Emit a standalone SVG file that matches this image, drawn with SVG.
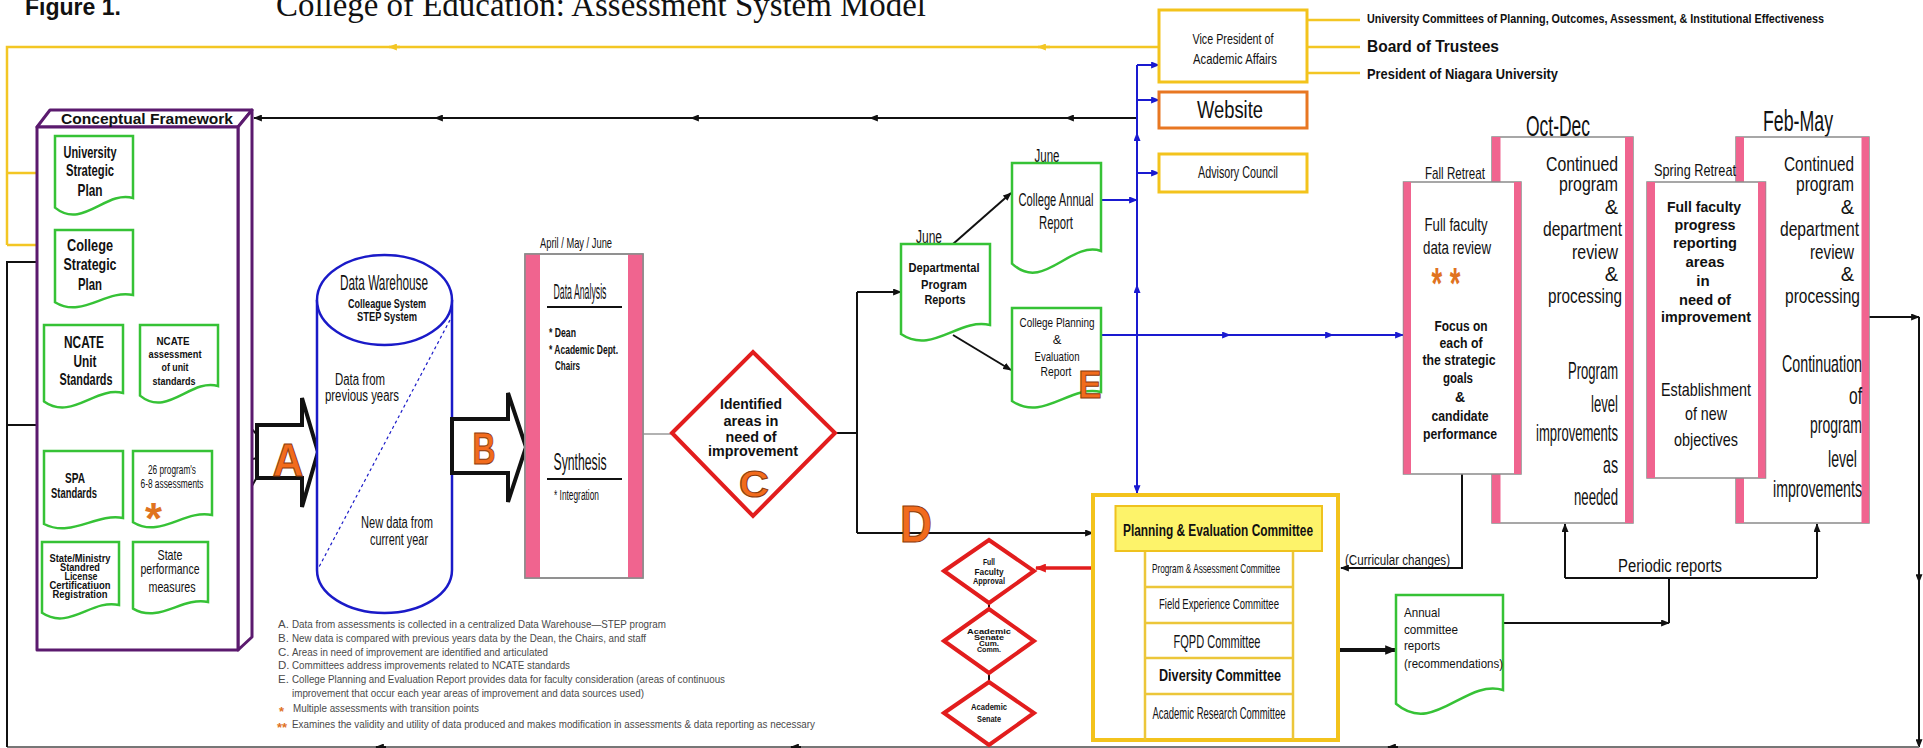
<svg xmlns="http://www.w3.org/2000/svg" width="1923" height="748" viewBox="0 0 1923 748">
<defs>
<style>
.t{font-family:"Liberation Sans",Arial,sans-serif;fill:#111}
.b{font-weight:bold}
.m{text-anchor:middle}
.e{text-anchor:end}
.lg{font-family:"Liberation Sans",Arial,sans-serif;fill:#4a4a4a;font-size:11.5px}
.let{font-family:"Liberation Sans",Arial,sans-serif;font-weight:bold;fill:#f26b1d;stroke:#8a3b0c;stroke-width:1;text-anchor:middle}
.doc{fill:#fff;stroke:#36c236;stroke-width:2.5}
.pur{fill:#fff;stroke:#5b1a6e;stroke-width:3;stroke-linejoin:round}
.dia{fill:#fff;stroke:#e21d1d;stroke-width:4}
.box{fill:#fff;stroke:#8a8a8a;stroke-width:1.5}
.pink{fill:#f0648f}
.yb{fill:#fff;stroke:#f3c31c;stroke-width:3}
.k{fill:none;stroke:#111;stroke-width:2}
.bl{fill:none;stroke:#1a1ad0;stroke-width:2}
.yl{fill:none;stroke:#f3c624;stroke-width:2.5}
.st{fill:#e0731f;font-family:"Liberation Sans",Arial,sans-serif;font-weight:bold}
.blk{fill:#fff;stroke:#111;stroke-width:4;stroke-linejoin:miter}
</style>
<marker id="ak" viewBox="0 0 10 8" refX="9" refY="4" markerWidth="9" markerHeight="7" orient="auto" markerUnits="userSpaceOnUse"><path d="M0,0 L10,4 L0,8 z" fill="#111"/></marker>
<marker id="ak2" viewBox="0 0 10 8" refX="9" refY="4" markerWidth="12" markerHeight="10" orient="auto" markerUnits="userSpaceOnUse"><path d="M0,0 L10,4 L0,8 z" fill="#111"/></marker>
<marker id="ab" viewBox="0 0 10 8" refX="9" refY="4" markerWidth="9" markerHeight="7" orient="auto" markerUnits="userSpaceOnUse"><path d="M0,0 L10,4 L0,8 z" fill="#1a1ad0"/></marker>
<marker id="ay" viewBox="0 0 10 8" refX="9" refY="4" markerWidth="9" markerHeight="7" orient="auto" markerUnits="userSpaceOnUse"><path d="M0,0 L10,4 L0,8 z" fill="#f3c624"/></marker>
<marker id="ar" viewBox="0 0 10 8" refX="9" refY="4" markerWidth="11" markerHeight="9" orient="auto" markerUnits="userSpaceOnUse"><path d="M0,0 L10,4 L0,8 z" fill="#e21d1d"/></marker>
</defs>
<rect width="1923" height="748" fill="#fff"/>

<g id="title">
<text class="t b" x="25" y="15" font-size="24" textLength="96" lengthAdjust="spacingAndGlyphs">Figure 1.</text>
<text x="276" y="16" font-family="'Liberation Serif','Times New Roman',serif" font-size="33" fill="#111" textLength="650" lengthAdjust="spacingAndGlyphs">College of Education: Assessment System Model</text>
</g>

<g id="connectors">
<path class="yl" d="M1159,47 H7 V245"/>
<path class="yl" d="M7,173 H55" marker-end="url(#ay)"/>
<path class="yl" d="M7,245 H55" marker-end="url(#ay)"/>
<path class="yl" d="M1050,47 H1038" marker-end="url(#ay)"/>
<path class="yl" d="M400,47 H389" marker-end="url(#ay)"/>
<path class="yl" d="M1307,20 H1360 M1307,47 H1360 M1307,73 H1360"/>
<path class="k" d="M1137,118 H254" marker-end="url(#ak)"/>
<path class="k" d="M1076,118 H1066" marker-end="url(#ak)"/>
<path class="k" d="M880,118 H870" marker-end="url(#ak)"/>
<path class="k" d="M701,118 H691" marker-end="url(#ak)"/>
<path class="k" d="M445,118 H435" marker-end="url(#ak)"/>
<path class="k" d="M1868,317 H1919" marker-end="url(#ak)"/>
<path class="k" d="M1919,317 V747" marker-end="url(#ak)"/>
<path class="k" d="M1919,572 V582" marker-end="url(#ak)"/>
<path d="M1919,747 H7" stroke="#777" stroke-width="2" fill="none"/>
<path class="k" d="M1398,747 H1388" marker-end="url(#ak)"/>
<path class="k" d="M801,747 H791" marker-end="url(#ak)"/>
<path class="k" d="M386,747 H376" marker-end="url(#ak)"/>
<path class="k" d="M7,747 V262 H55" marker-end="url(#ak)"/>
<path class="k" d="M7,425 H163 V451" marker-end="url(#ak)"/>
<path class="k" stroke-width="1.8" d="M257,435 L213,384" marker-end="url(#ak)"/>
<path class="k" stroke-width="1.8" d="M257,458 L209,469" marker-end="url(#ak)"/>
<path class="k" stroke-width="1.8" d="M257,477 L208,564" marker-end="url(#ak)"/>
<path d="M643,434 H672" stroke="#999" stroke-width="1.5" fill="none"/>
<path class="k" d="M835,433 H857 M857,292 V533"/>
<path class="k" d="M857,292 H901" marker-end="url(#ak)"/>
<path class="k" d="M857,533 H1093" marker-end="url(#ak)"/>
<path class="k" d="M953,244 L1011,193" marker-end="url(#ak)"/>
<path class="k" d="M953,335 L1011,370" marker-end="url(#ak)"/>
<path class="bl" d="M1137,65 V493" marker-end="url(#ab)"/>
<path class="bl" d="M1137,65 H1159" marker-end="url(#ab)"/>
<path class="bl" d="M1137,100 H1159" marker-end="url(#ab)"/>
<path class="bl" d="M1137,173 H1159" marker-end="url(#ab)"/>
<path class="bl" d="M1137,143 V133" marker-end="url(#ab)"/>
<path class="bl" d="M1137,295 V285" marker-end="url(#ab)"/>
<path class="bl" d="M1101,200 H1137" marker-end="url(#ab)"/>
<path class="bl" d="M1101,335 H1403" marker-end="url(#ab)"/>
<path class="bl" d="M1220,335 H1230" marker-end="url(#ab)"/>
<path class="bl" d="M1323,335 H1333" marker-end="url(#ab)"/>
<path d="M1093,568 H1036" stroke="#e21d1d" stroke-width="3.5" fill="none" marker-end="url(#ar)"/>
<path class="k" d="M989,603 V609 M989,673 V682"/>
<path d="M1338,650 H1396" stroke="#111" stroke-width="4" fill="none" marker-end="url(#ak2)"/>
<path class="k" d="M1462,474 V568 H1341" marker-end="url(#ak)"/>
<path class="k" d="M1565,578 V524" marker-end="url(#ak)"/>
<path class="k" d="M1817,578 V524" marker-end="url(#ak)"/>
<path class="k" d="M1565,578 H1817"/>
<path class="k" d="M1503,623 H1669" marker-end="url(#ak)"/>
<path class="k" d="M1669,623 V578"/>
</g>

<g id="conceptual-framework">
<path class="pur" d="M37,127 L50,110 L252,110 L238,127 Z"/>
<path class="pur" d="M238,127 L252,110 L252,637 L238,650 Z"/>
<rect class="pur" x="37" y="127" width="201" height="523"/>
<text class="t b m" x="147" y="124" font-size="14" textLength="172" lengthAdjust="spacingAndGlyphs">Conceptual Framework</text>
</g>

<g id="university-strategic-plan">
<path class="doc" d="M55,136 H133 V198 C105.7,190 82.3,230 55,207.6 Z"/>
<text class="t b m" font-size="17"><tspan x="90" y="158" textLength="53" lengthAdjust="spacingAndGlyphs">University</tspan><tspan x="90" y="176" textLength="48" lengthAdjust="spacingAndGlyphs">Strategic</tspan><tspan x="90" y="196" textLength="25" lengthAdjust="spacingAndGlyphs">Plan</tspan></text>
</g>
<g id="college-strategic-plan">
<path class="doc" d="M55,230 H133 V295 C105.7,289 82.3,319 55,302.2 Z"/>
<text class="t b m" font-size="17"><tspan x="90" y="251" textLength="46" lengthAdjust="spacingAndGlyphs">College</tspan><tspan x="90" y="270" textLength="53" lengthAdjust="spacingAndGlyphs">Strategic</tspan><tspan x="90" y="290" textLength="24" lengthAdjust="spacingAndGlyphs">Plan</tspan></text>
</g>
<g id="ncate-unit-standards">
<path class="doc" d="M44,325 H123 V393 C95.4,386 71.7,421 44,401.4 Z"/>
<text class="t b m" font-size="17"><tspan x="84" y="348" textLength="40" lengthAdjust="spacingAndGlyphs">NCATE</tspan><tspan x="85" y="367" textLength="23" lengthAdjust="spacingAndGlyphs">Unit</tspan><tspan x="86" y="385" textLength="53" lengthAdjust="spacingAndGlyphs">Standards</tspan></text>
</g>
<g id="ncate-assessment">
<path class="doc" d="M140,325 H218 V386 C190.7,378 167.3,418 140,395.6 Z"/>
<text class="t b m" font-size="11.5"><tspan x="173" y="345" textLength="33" lengthAdjust="spacingAndGlyphs">NCATE</tspan><tspan x="175" y="358" textLength="53" lengthAdjust="spacingAndGlyphs">assessment</tspan><tspan x="175" y="371" textLength="27" lengthAdjust="spacingAndGlyphs">of unit</tspan><tspan x="174" y="385" textLength="43" lengthAdjust="spacingAndGlyphs">standards</tspan></text>
</g>
<g id="spa-standards">
<path class="doc" d="M44,451 H123 V518 C95.4,513 71.7,538 44,524 Z"/>
<text class="t b m" font-size="15"><tspan x="75" y="483" textLength="20" lengthAdjust="spacingAndGlyphs">SPA</tspan><tspan x="74" y="498" textLength="46" lengthAdjust="spacingAndGlyphs">Standards</tspan></text>
</g>
<g id="program-assessments">
<path class="doc" d="M133,451 H212 V515 C184.4,509 160.7,539 133,522.2 Z"/>
<text class="t m" font-size="12"><tspan x="172" y="474" textLength="48" lengthAdjust="spacingAndGlyphs">26 program's</tspan><tspan x="172" y="488" textLength="63" lengthAdjust="spacingAndGlyphs">6-8 assessments</tspan></text>
<text class="st" x="145" y="534" font-size="44" textLength="17" lengthAdjust="spacingAndGlyphs">*</text>
</g>
<g id="state-ministry">
<path class="doc" d="M42,542 H119 V605 C92,598.5 69,631 42,612.8 Z"/>
<text class="t b m" font-size="10"><tspan x="80" y="562" textLength="61" lengthAdjust="spacingAndGlyphs">State/Ministry</tspan><tspan x="80" y="571" textLength="40" lengthAdjust="spacingAndGlyphs">Standred</tspan><tspan x="81" y="580" textLength="33" lengthAdjust="spacingAndGlyphs">License</tspan><tspan x="80" y="589" textLength="61" lengthAdjust="spacingAndGlyphs">Certificatiuon</tspan><tspan x="80" y="598" textLength="55" lengthAdjust="spacingAndGlyphs">Registration</tspan></text>
</g>
<g id="state-performance">
<path class="doc" d="M133,542 H208 V602 C181.8,596.5 159.3,624 133,608.6 Z"/>
<text class="t m" font-size="15"><tspan x="170" y="560" textLength="25" lengthAdjust="spacingAndGlyphs">State</tspan><tspan x="170" y="574" textLength="59" lengthAdjust="spacingAndGlyphs">performance</tspan><tspan x="172" y="592" textLength="47" lengthAdjust="spacingAndGlyphs">measures</tspan></text>
</g>

<g id="arrow-a">
<polygon class="blk" points="257,425 302,425 302,398 318,452 302,507 302,478 257,478"/>
<text class="let" x="288" y="476" font-size="46" textLength="31" lengthAdjust="spacingAndGlyphs">A</text>
</g>

<g id="data-warehouse">
<path d="M317,300 V570 A67.5,43 0 0 0 452,570 V300" fill="#fff" stroke="#1a1ac8" stroke-width="2.5"/>
<ellipse cx="384.5" cy="300" rx="67.5" ry="45" fill="#fff" stroke="#1a1ac8" stroke-width="2.5"/>
<path d="M450,320 L319,567" stroke="#1a1ac8" stroke-width="1.2" stroke-dasharray="3,3" fill="none"/>
<text class="t m" x="384" y="290" font-size="22" textLength="88" lengthAdjust="spacingAndGlyphs">Data Warehouse</text>
<text class="t b m" font-size="12"><tspan x="387" y="308" textLength="78" lengthAdjust="spacingAndGlyphs">Colleague System</tspan><tspan x="387" y="321" textLength="60" lengthAdjust="spacingAndGlyphs">STEP System</tspan></text>
<text class="t m" font-size="16"><tspan x="360" y="385" textLength="50" lengthAdjust="spacingAndGlyphs">Data from</tspan><tspan x="362" y="401" textLength="74" lengthAdjust="spacingAndGlyphs">previous years</tspan></text>
<text class="t m" font-size="16"><tspan x="397" y="528" textLength="72" lengthAdjust="spacingAndGlyphs">New data from</tspan><tspan x="399" y="545" textLength="58" lengthAdjust="spacingAndGlyphs">current year</tspan></text>
</g>

<g id="arrow-b">
<polygon class="blk" points="452,419 508,419 508,393 526,447 508,502 508,473 452,473"/>
<text class="let" x="484" y="464" font-size="44" textLength="23" lengthAdjust="spacingAndGlyphs">B</text>
</g>

<g id="analysis">
<text class="t m" x="576" y="248" font-size="15" textLength="72" lengthAdjust="spacingAndGlyphs">April / May / June</text>
<rect class="box" x="525" y="254" width="118" height="324"/>
<rect class="pink" x="525" y="254" width="15" height="324"/>
<rect class="pink" x="628" y="254" width="15" height="324"/>
<rect x="525" y="254" width="118" height="324" fill="none" stroke="#8a8a8a" stroke-width="1.5"/>
<text class="t m" x="580" y="299" font-size="22" textLength="53" lengthAdjust="spacingAndGlyphs">Data Analysis</text>
<path d="M547,307 H622 M547,479 H622" stroke="#111" stroke-width="2"/>
<text class="t b" font-size="13"><tspan x="549" y="337" textLength="27" lengthAdjust="spacingAndGlyphs">* Dean</tspan><tspan x="549" y="354" textLength="69" lengthAdjust="spacingAndGlyphs">* Academic Dept.</tspan><tspan x="555" y="370" textLength="25" lengthAdjust="spacingAndGlyphs">Chairs</tspan></text>
<text class="t m" x="580" y="470" font-size="24" textLength="53" lengthAdjust="spacingAndGlyphs">Synthesis</text>
<text class="t" x="554" y="500" font-size="14" textLength="45" lengthAdjust="spacingAndGlyphs">* Integration</text>
</g>

<g id="identified-areas">
<polygon class="dia" points="672,433 753,352 835,433 753,516"/>
<text class="t b m" font-size="14"><tspan x="751" y="409" textLength="62" lengthAdjust="spacingAndGlyphs">Identified</tspan><tspan x="751" y="426" textLength="55" lengthAdjust="spacingAndGlyphs">areas in</tspan><tspan x="751" y="442" textLength="51" lengthAdjust="spacingAndGlyphs">need of</tspan><tspan x="753" y="456" textLength="90" lengthAdjust="spacingAndGlyphs">improvement</tspan></text>
<text class="let" x="754" y="497" font-size="37" textLength="30" lengthAdjust="spacingAndGlyphs">C</text>
</g>

<g id="departmental-reports">
<text class="t m" x="929" y="243" font-size="18" textLength="26" lengthAdjust="spacingAndGlyphs">June</text>
<path class="doc" d="M901,244 H990 V325 C958.9,317.5 932.2,355 901,334 Z"/>
<text class="t b m" font-size="12.5"><tspan x="944" y="272" textLength="71" lengthAdjust="spacingAndGlyphs">Departmental</tspan><tspan x="944" y="289" textLength="46" lengthAdjust="spacingAndGlyphs">Program</tspan><tspan x="945" y="304" textLength="41" lengthAdjust="spacingAndGlyphs">Reports</tspan></text>
</g>

<g id="college-annual-report">
<text class="t m" x="1047" y="162" font-size="18" textLength="25" lengthAdjust="spacingAndGlyphs">June</text>
<path class="doc" d="M1012,163 H1101 V251 C1069.9,240.5 1043.2,293 1012,263.6 Z"/>
<text class="t m" font-size="19"><tspan x="1056" y="206" textLength="75" lengthAdjust="spacingAndGlyphs">College Annual</tspan><tspan x="1056" y="229" textLength="34" lengthAdjust="spacingAndGlyphs">Report</tspan></text>
</g>

<g id="college-planning-report">
<path class="doc" d="M1012,308 H1101 V392 C1069.9,384.5 1043.2,422 1012,401 Z"/>
<text class="t m" font-size="13"><tspan x="1057" y="327" textLength="75" lengthAdjust="spacingAndGlyphs">College Planning</tspan><tspan x="1057" y="344">&amp;</tspan><tspan x="1057" y="361" textLength="45" lengthAdjust="spacingAndGlyphs">Evaluation</tspan><tspan x="1056" y="376" textLength="31" lengthAdjust="spacingAndGlyphs">Report</tspan></text>
<text class="let" x="1090" y="398" font-size="39" textLength="23" lengthAdjust="spacingAndGlyphs">E</text>
</g>

<g id="label-d">
<text class="let" x="916" y="542" font-size="51" textLength="32" lengthAdjust="spacingAndGlyphs">D</text>
</g>

<g id="vice-president">
<rect class="yb" x="1159" y="10" width="148" height="72"/>
<text class="t m" font-size="15"><tspan x="1233" y="44" textLength="81" lengthAdjust="spacingAndGlyphs">Vice President of</tspan><tspan x="1235" y="64" textLength="84" lengthAdjust="spacingAndGlyphs">Academic Affairs</tspan></text>
</g>
<g id="university-committees">
<text class="t b" x="1367" y="23" font-size="13" textLength="457" lengthAdjust="spacingAndGlyphs">University Committees of Planning, Outcomes, Assessment, &amp; Institutional Effectiveness</text>
</g>
<g id="board-of-trustees">
<text class="t b" x="1367" y="52" font-size="17" textLength="132" lengthAdjust="spacingAndGlyphs">Board of Trustees</text>
</g>
<g id="president">
<text class="t b" x="1367" y="79" font-size="15" textLength="191" lengthAdjust="spacingAndGlyphs">President of Niagara University</text>
</g>
<g id="website">
<rect x="1159" y="92" width="148" height="36" fill="#fff" stroke="#e87722" stroke-width="3"/>
<text class="t m" x="1230" y="118" font-size="23" textLength="66" lengthAdjust="spacingAndGlyphs">Website</text>
</g>
<g id="advisory-council">
<rect class="yb" x="1159" y="154" width="148" height="38"/>
<text class="t m" x="1238" y="178" font-size="16" textLength="80" lengthAdjust="spacingAndGlyphs">Advisory Council</text>
</g>

<g id="oct-dec">
<text class="t m" x="1558" y="136" font-size="30" textLength="64" lengthAdjust="spacingAndGlyphs">Oct-Dec</text>
<rect class="box" x="1492" y="137" width="141" height="386"/>
<rect class="pink" x="1492" y="137" width="8.5" height="386"/>
<rect class="pink" x="1625" y="137" width="8" height="386"/>
<text class="t e" font-size="20"><tspan x="1618" y="171" textLength="72" lengthAdjust="spacingAndGlyphs">Continued</tspan><tspan x="1618" y="191" textLength="59" lengthAdjust="spacingAndGlyphs">program</tspan><tspan x="1618" y="214">&amp;</tspan><tspan x="1622" y="236" textLength="79" lengthAdjust="spacingAndGlyphs">department</tspan><tspan x="1618" y="259" textLength="46" lengthAdjust="spacingAndGlyphs">review</tspan><tspan x="1618" y="281">&amp;</tspan><tspan x="1622" y="303" textLength="74" lengthAdjust="spacingAndGlyphs">processing</tspan></text>
<text class="t e" font-size="24"><tspan x="1618" y="379" textLength="50" lengthAdjust="spacingAndGlyphs">Program</tspan><tspan x="1618" y="412" textLength="27" lengthAdjust="spacingAndGlyphs">level</tspan><tspan x="1618" y="441" textLength="82" lengthAdjust="spacingAndGlyphs">improvements</tspan><tspan x="1618" y="473" textLength="15" lengthAdjust="spacingAndGlyphs">as</tspan><tspan x="1618" y="505" textLength="44" lengthAdjust="spacingAndGlyphs">needed</tspan></text>
</g>

<g id="fall-retreat">
<text class="t m" x="1455" y="179" font-size="17" textLength="60" lengthAdjust="spacingAndGlyphs">Fall Retreat</text>
<rect class="box" x="1403.5" y="182" width="117.5" height="292"/>
<rect class="pink" x="1403.5" y="182" width="7.5" height="292"/>
<rect class="pink" x="1514" y="182" width="7" height="292"/>
<text class="t m" font-size="19"><tspan x="1456" y="231" textLength="63" lengthAdjust="spacingAndGlyphs">Full faculty</tspan><tspan x="1457" y="254" textLength="68" lengthAdjust="spacingAndGlyphs">data review</tspan></text>
<text class="st" x="1446" y="299" font-size="44" text-anchor="middle" textLength="29" lengthAdjust="spacingAndGlyphs">* *</text>
<text class="t b m" font-size="14"><tspan x="1461" y="331" textLength="53" lengthAdjust="spacingAndGlyphs">Focus on</tspan><tspan x="1461" y="348" textLength="43" lengthAdjust="spacingAndGlyphs">each of</tspan><tspan x="1459" y="365" textLength="73" lengthAdjust="spacingAndGlyphs">the strategic</tspan><tspan x="1458" y="383" textLength="30" lengthAdjust="spacingAndGlyphs">goals</tspan><tspan x="1460" y="402">&amp;</tspan><tspan x="1460" y="421" textLength="57" lengthAdjust="spacingAndGlyphs">candidate</tspan><tspan x="1460" y="439" textLength="74" lengthAdjust="spacingAndGlyphs">performance</tspan></text>
</g>

<g id="feb-may">
<text class="t m" x="1798" y="131" font-size="30" textLength="70" lengthAdjust="spacingAndGlyphs">Feb-May</text>
<rect class="box" x="1736" y="137" width="133" height="386"/>
<rect class="pink" x="1736" y="137" width="8" height="386"/>
<rect class="pink" x="1861.5" y="137" width="7.5" height="386"/>
<text class="t e" font-size="20"><tspan x="1854" y="171" textLength="70" lengthAdjust="spacingAndGlyphs">Continued</tspan><tspan x="1854" y="191" textLength="58" lengthAdjust="spacingAndGlyphs">program</tspan><tspan x="1854" y="214">&amp;</tspan><tspan x="1859" y="236" textLength="79" lengthAdjust="spacingAndGlyphs">department</tspan><tspan x="1854" y="259" textLength="44" lengthAdjust="spacingAndGlyphs">review</tspan><tspan x="1854" y="281">&amp;</tspan><tspan x="1860" y="303" textLength="75" lengthAdjust="spacingAndGlyphs">processing</tspan></text>
<text class="t e" font-size="24"><tspan x="1862" y="372" textLength="80" lengthAdjust="spacingAndGlyphs">Continuation</tspan><tspan x="1862" y="404" textLength="13" lengthAdjust="spacingAndGlyphs">of</tspan><tspan x="1862" y="433" textLength="52" lengthAdjust="spacingAndGlyphs">program</tspan><tspan x="1857" y="467" textLength="29" lengthAdjust="spacingAndGlyphs">level</tspan><tspan x="1862" y="497" textLength="89" lengthAdjust="spacingAndGlyphs">improvements</tspan></text>
</g>

<g id="spring-retreat">
<text class="t m" x="1695" y="176" font-size="17" textLength="82" lengthAdjust="spacingAndGlyphs">Spring Retreat</text>
<rect class="box" x="1647" y="182" width="118.5" height="296"/>
<rect class="pink" x="1647" y="182" width="8" height="296"/>
<rect class="pink" x="1758" y="182" width="7.5" height="296"/>
<text class="t b m" font-size="15"><tspan x="1704" y="212" textLength="74" lengthAdjust="spacingAndGlyphs">Full faculty</tspan><tspan x="1705" y="230" textLength="61" lengthAdjust="spacingAndGlyphs">progress</tspan><tspan x="1705" y="248" textLength="64" lengthAdjust="spacingAndGlyphs">reporting</tspan><tspan x="1705" y="267" textLength="39" lengthAdjust="spacingAndGlyphs">areas</tspan><tspan x="1703" y="286">in</tspan><tspan x="1705" y="305" textLength="52" lengthAdjust="spacingAndGlyphs">need of</tspan><tspan x="1706" y="322" textLength="90" lengthAdjust="spacingAndGlyphs">improvement</tspan></text>
<text class="t m" font-size="19"><tspan x="1706" y="396" textLength="90" lengthAdjust="spacingAndGlyphs">Establishment</tspan><tspan x="1706" y="420" textLength="42" lengthAdjust="spacingAndGlyphs">of new</tspan><tspan x="1706" y="446" textLength="64" lengthAdjust="spacingAndGlyphs">objectives</tspan></text>
</g>

<g id="planning-evaluation-committee">
<rect x="1093" y="495" width="245" height="245" fill="#fff" stroke="#f3c31c" stroke-width="4"/>
<path d="M1145,551 V740 M1293,551 V740 M1145,587 H1293 M1145,623 H1293 M1145,658 H1293 M1145,694 H1293" stroke="#ecc63a" stroke-width="2.5" fill="none"/>
<rect x="1115.5" y="506" width="206.5" height="45" fill="#fdf36a" stroke="#efc21e" stroke-width="2"/>
<text class="t b m" x="1218" y="536" font-size="16" textLength="190" lengthAdjust="spacingAndGlyphs">Planning &amp; Evaluation Committee</text>
<text class="t m" x="1216" y="573" font-size="13" textLength="128" lengthAdjust="spacingAndGlyphs">Program &amp; Assessment Committee</text>
<text class="t m" x="1219" y="609" font-size="14" textLength="120" lengthAdjust="spacingAndGlyphs">Field Experience Committee</text>
<text class="t m" x="1217" y="648" font-size="19" textLength="87" lengthAdjust="spacingAndGlyphs">FQPD Committee</text>
<text class="t b m" x="1220" y="681" font-size="16" textLength="122" lengthAdjust="spacingAndGlyphs">Diversity Committee</text>
<text class="t m" x="1219" y="719" font-size="17" textLength="133" lengthAdjust="spacingAndGlyphs">Academic Research Committee</text>
</g>

<g id="full-faculty-approval">
<polygon class="dia" points="944,571 989,540 1034,571 989,603"/>
<text class="t b m" font-size="9"><tspan x="989" y="565" textLength="12" lengthAdjust="spacingAndGlyphs">Full</tspan><tspan x="989" y="575" textLength="29" lengthAdjust="spacingAndGlyphs">Faculty</tspan><tspan x="989" y="584" textLength="32" lengthAdjust="spacingAndGlyphs">Approval</tspan></text>
</g>
<g id="academic-senate-curriculum">
<polygon class="dia" points="944,641 989,609 1034,641 989,673"/>
<text class="t b m" font-size="8"><tspan x="989" y="634" textLength="44" lengthAdjust="spacingAndGlyphs">Academic</tspan><tspan x="989" y="640" textLength="30" lengthAdjust="spacingAndGlyphs">Senate</tspan><tspan x="989" y="646" textLength="20" lengthAdjust="spacingAndGlyphs">Cum.</tspan><tspan x="989" y="652" textLength="24" lengthAdjust="spacingAndGlyphs">Comm.</tspan></text>
</g>
<g id="academic-senate">
<polygon class="dia" points="944,713 989,682 1034,713 989,745"/>
<text class="t b m" font-size="9"><tspan x="989" y="710" textLength="36" lengthAdjust="spacingAndGlyphs">Academic</tspan><tspan x="989" y="722" textLength="24" lengthAdjust="spacingAndGlyphs">Senate</tspan></text>
</g>

<g id="curricular-changes">
<text class="t" x="1345" y="565" font-size="14" textLength="105" lengthAdjust="spacingAndGlyphs">(Curricular changes)</text>
</g>
<g id="periodic-reports">
<text class="t m" x="1670" y="572" font-size="18" textLength="104" lengthAdjust="spacingAndGlyphs">Periodic reports</text>
</g>

<g id="annual-committee-reports">
<path class="doc" d="M1396,595 H1503 V690 C1465.6,678.5 1433.5,736 1396,703.8 Z"/>
<text class="t" font-size="13"><tspan x="1404" y="617" textLength="36" lengthAdjust="spacingAndGlyphs">Annual</tspan><tspan x="1404" y="634" textLength="54" lengthAdjust="spacingAndGlyphs">committee</tspan><tspan x="1404" y="650" textLength="36" lengthAdjust="spacingAndGlyphs">reports</tspan><tspan x="1404" y="668" textLength="99" lengthAdjust="spacingAndGlyphs">(recommendations)</tspan></text>
</g>

<g id="legend">
<text class="lg" x="278" y="628">A.</text>
<text class="lg" x="292" y="628" textLength="374" lengthAdjust="spacingAndGlyphs">Data from assessments is collected in a centralized Data Warehouse—STEP program</text>
<text class="lg" x="278" y="642">B.</text>
<text class="lg" x="292" y="642" textLength="354" lengthAdjust="spacingAndGlyphs">New data is compared with previous years data by the Dean, the Chairs, and staff</text>
<text class="lg" x="278" y="656">C.</text>
<text class="lg" x="292" y="656" textLength="256" lengthAdjust="spacingAndGlyphs">Areas in need of improvement are identified and articulated</text>
<text class="lg" x="278" y="669">D.</text>
<text class="lg" x="292" y="669" textLength="278" lengthAdjust="spacingAndGlyphs">Committees address improvements related to NCATE standards</text>
<text class="lg" x="278" y="683">E.</text>
<text class="lg" x="292" y="683" textLength="433" lengthAdjust="spacingAndGlyphs">College Planning and Evaluation Report provides data for faculty consideration (areas of continuous</text>
<text class="lg" x="292" y="697" textLength="352" lengthAdjust="spacingAndGlyphs">improvement that occur each year areas of improvement and data sources used)</text>
<text class="st" x="279" y="716" font-size="13">*</text>
<text class="lg" x="293" y="712" textLength="186" lengthAdjust="spacingAndGlyphs">Multiple assessments with transition points</text>
<text class="st" x="277" y="732" font-size="13">**</text>
<text class="lg" x="292" y="728" textLength="523" lengthAdjust="spacingAndGlyphs">Examines the validity and utility of data produced and makes modification in assessments &amp; data reporting as necessary</text>
</g>
</svg>
